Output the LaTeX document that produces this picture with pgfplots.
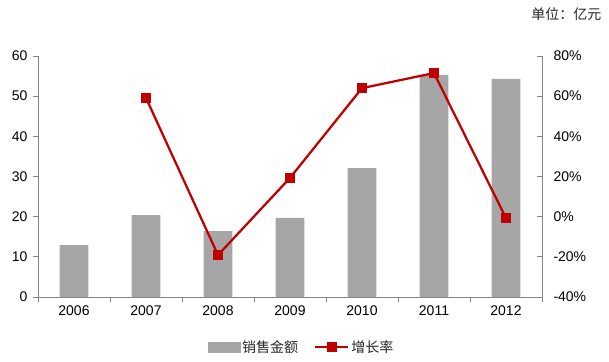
\documentclass[border=0pt]{standalone}
\usepackage{pgfplots}
\pgfplotsset{compat=1.18}
\usepackage{fontspec}
\setmainfont{Liberation Sans}
\newfontfamily\cjk{Noto Sans CJK SC}
\definecolor{barg}{HTML}{A6A6A6}
\definecolor{linered}{HTML}{C00000}
\definecolor{axg}{HTML}{868686}
\definecolor{txt}{HTML}{262626}
\pgfplotsset{
  mylegline/.style={legend image code/.code={\draw[mark repeat=2,mark phase=2,##1] plot coordinates {(0bp,0bp) (16.5bp,0bp) (33bp,0bp)};}},
  mylegbar/.style={legend image code/.code={\fill[barg] (0bp,-5bp) rectangle (32bp,5bp);}},
}
\begin{document}
\begin{tikzpicture}
\pgfplotsset{
  every axis/.append style={
    scale only axis, width=504bp, height=241bp,
    xmin=-0.5, xmax=6.5,
    font=\fontsize{14bp}{16bp}\selectfont,
    /pgf/number format/assume math mode=true,
    axis line style={axg, line width=0.9bp},
    every tick/.style={axg, line width=0.9bp},
    tick label style={text=black},
  }
}
\begin{axis}[
  axis x line*=bottom, axis y line*=left,
  ymin=0, ymax=60, ytick={0,10,...,60},
  xtick={0,...,6}, xticklabels={2006,2007,2008,2009,2010,2011,2012},
  major x tick style={draw=none},
  minor xtick={-0.5,0.5,...,6.5},
  tick align=outside,
  major tick length=5bp, minor tick length=5bp,
  yticklabel style={xshift=-2bp},
]
\addplot[ybar, bar width=0.4, fill=barg, draw=none] coordinates {
(0,12.9) (1,20.4) (2,16.4) (3,19.7) (4,32.1) (5,55.3) (6,54.3)};
\end{axis}
\begin{axis}[
  axis x line=none, axis y line*=right, clip=false,
  ymin=-40, ymax=80, ytick={-40,-20,...,80},
  yticklabel={\pgfmathprintnumber{\tick}\%},
  tick align=inside, major tick length=5bp,
  yticklabel style={xshift=8bp},
  legend style={at={(0.5228,-0.2075)}, anchor=center, draw=none, fill=none,
    legend columns=2, font=\cjk\fontsize{14bp}{16bp}\selectfont, text=txt,
    /tikz/every even column/.append style={column sep=14bp}},
  legend cell align=left,
]
\addlegendimage{mylegbar}
\addlegendentry{销售金额}
\addplot[linered, line width=2.25bp, mark=square*, mark size=4bp, mylegline]
  coordinates {(1,59.1) (2,-19.1) (3,19.3) (4,64) (5,71.5) (6,-0.7)};
\addlegendentry{增长率}
\node[anchor=east, text=txt, font=\cjk\fontsize{14bp}{16bp}\selectfont] at (rel axis cs:1.125,1.174) {单位：亿元};
\end{axis}
\pgfresetboundingbox
\path[use as bounding box] (current axis.south west) ++(-38bp,-65bp) rectangle ++(609bp,362bp);
\end{tikzpicture}
\end{document}
